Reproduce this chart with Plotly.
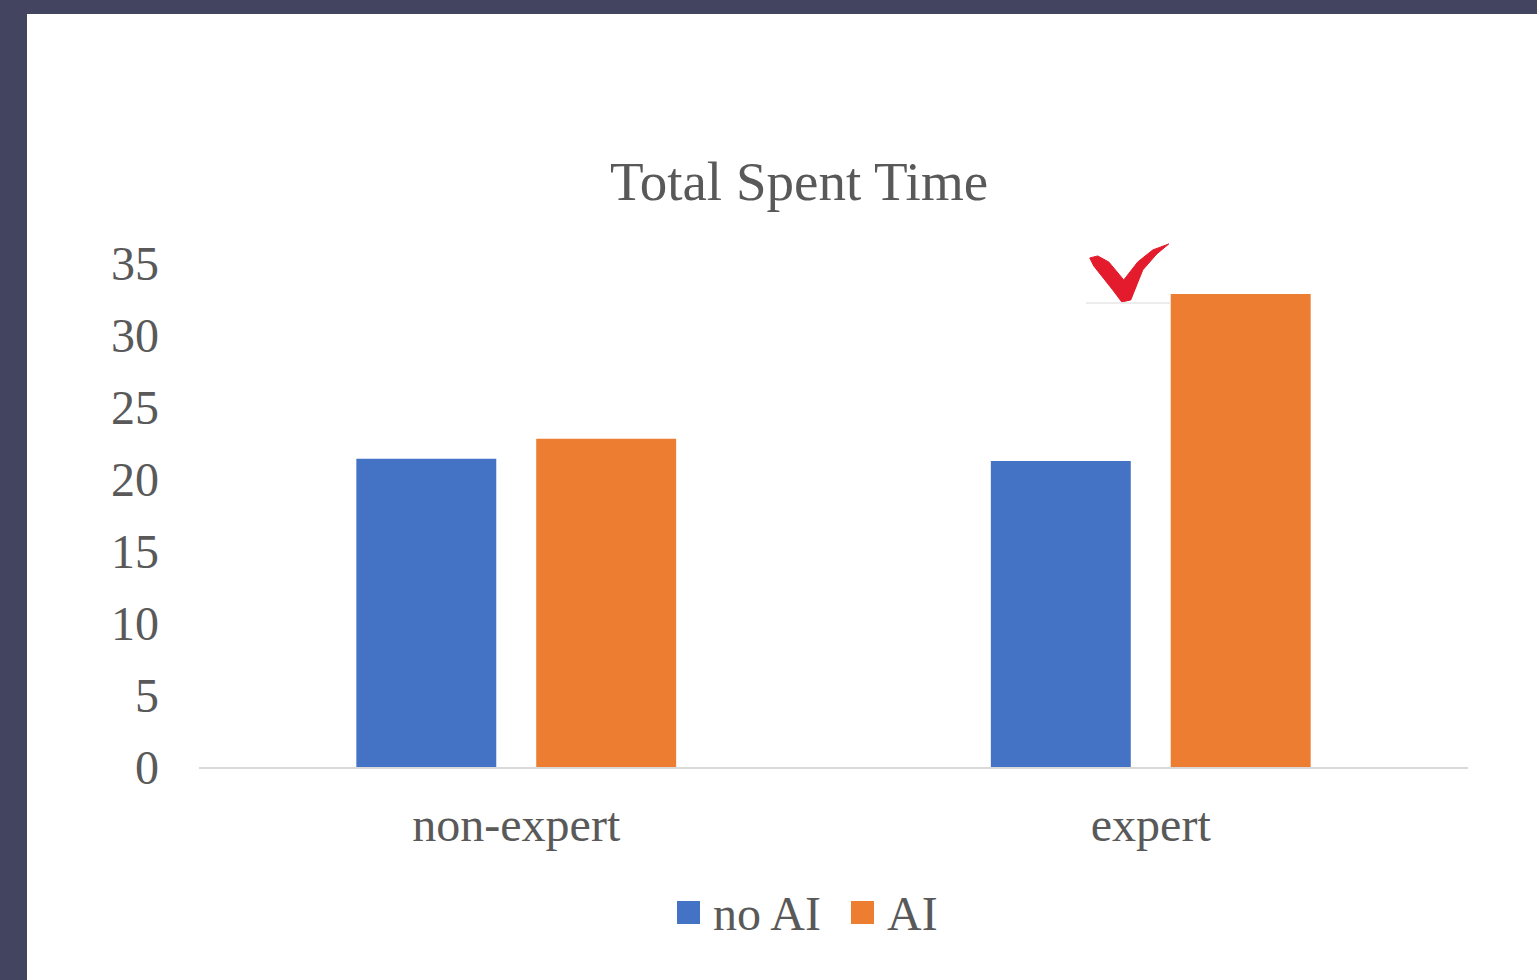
import plotly.graph_objects as go

# Data
groups = ["non-expert", "expert"]
series_names = ["no AI", "AI"]
no_ai_time = [21.4, 21.25]
ai_time = [22.8, 32.85]
series_values = [no_ai_time, ai_time]
series_colors = ["#4472C4", "#ED7D31"]
y_ticks = [0, 5, 10, 15, 20, 25, 30, 35]
y_range = [0, 35]

W, H = 1537, 980
ML, MR, MT, MB = 199, 69, 263, 213
PW, PH = W - ML - MR, H - MT - MB

def px_x(p):
    return (p - ML) / PW

def px_y(p):
    return (H - MB - p) / PH

FONT = "Liberation Serif, Times New Roman, serif"
TXT = "#595959"

fig = go.Figure()
for name, vals, col in zip(series_names, series_values, series_colors):
    fig.add_trace(go.Bar(x=groups, y=vals, name=name, marker_color=col,
                         marker_line_width=0, showlegend=False))

# check mark sits on top of the expert / AI bar (paper y so it is not clipped)
check_y = (ai_time[1] - y_range[0]) / (y_range[1] - y_range[0])

shapes = [
    # white slide panel over the dark backdrop
    dict(type="rect", xref="paper", yref="paper", layer="below",
         x0=px_x(27), x1=px_x(W + 20), y0=px_y(H + 20), y1=px_y(14),
         fillcolor="white", line_width=0),
    dict(type="path", xref="x", yref="paper", xsizemode="pixel", ysizemode="pixel",
         xanchor=1, yanchor=check_y,
         path="M-61,36 L-53,38 L-42,32 L-27,14 L-13,32 L2,44 L18,50 L6,40 "
              "L-8,24 L-20,-6 L-29,-8 L-38,4 L-57,28 Z",
         fillcolor="#E31B2C", line=dict(color="#E31B2C", width=1)),
    dict(type="path", xref="x", yref="paper", xsizemode="pixel", ysizemode="pixel",
         xanchor=1, yanchor=check_y,
         path="M-65,-9 L20,-9", line=dict(color="#E6E6E6", width=1.5)),
]

annotations = []
# legend built from the series list
legend_square_x = [677, 851]
legend_text_x = [711, 885]
for name, col, sx, tx in zip(series_names, series_colors, legend_square_x, legend_text_x):
    shapes.append(dict(type="rect", xref="paper", yref="paper",
                       x0=px_x(sx), x1=px_x(sx + 23), y0=px_y(924), y1=px_y(901),
                       fillcolor=col, line_width=0))
    annotations.append(dict(xref="paper", yref="paper", x=px_x(tx), y=px_y(913),
                            xanchor="left", yanchor="middle", showarrow=False,
                            text=name, font=dict(family=FONT, size=48, color=TXT)))

fig.update_layout(
    width=W, height=H,
    margin=dict(l=ML, r=MR, t=MT, b=MB, autoexpand=False),
    paper_bgcolor="#43445F",
    plot_bgcolor="white",
    barmode="group",
    bargap=0.433,
    bargroupgap=0.222,
    title=dict(text="Total Spent Time", x=799 / W, xref="container", xanchor="center",
               y=1 - 181 / H, yref="container", yanchor="middle",
               font=dict(family=FONT, size=55, color=TXT)),
    xaxis=dict(showline=True, linecolor="#D9D9D9", linewidth=1.5, showgrid=False,
               ticks="", tickfont=dict(family=FONT, size=48, color=TXT),
               ticklabelstandoff=15, zeroline=False),
    yaxis=dict(range=y_range, tickvals=y_ticks, showgrid=False, showline=False,
               zeroline=False, ticks="", tickfont=dict(family=FONT, size=48, color=TXT),
               ticklabelstandoff=39),
    shapes=shapes,
    annotations=annotations,
)

fig.write_html("out.html")
